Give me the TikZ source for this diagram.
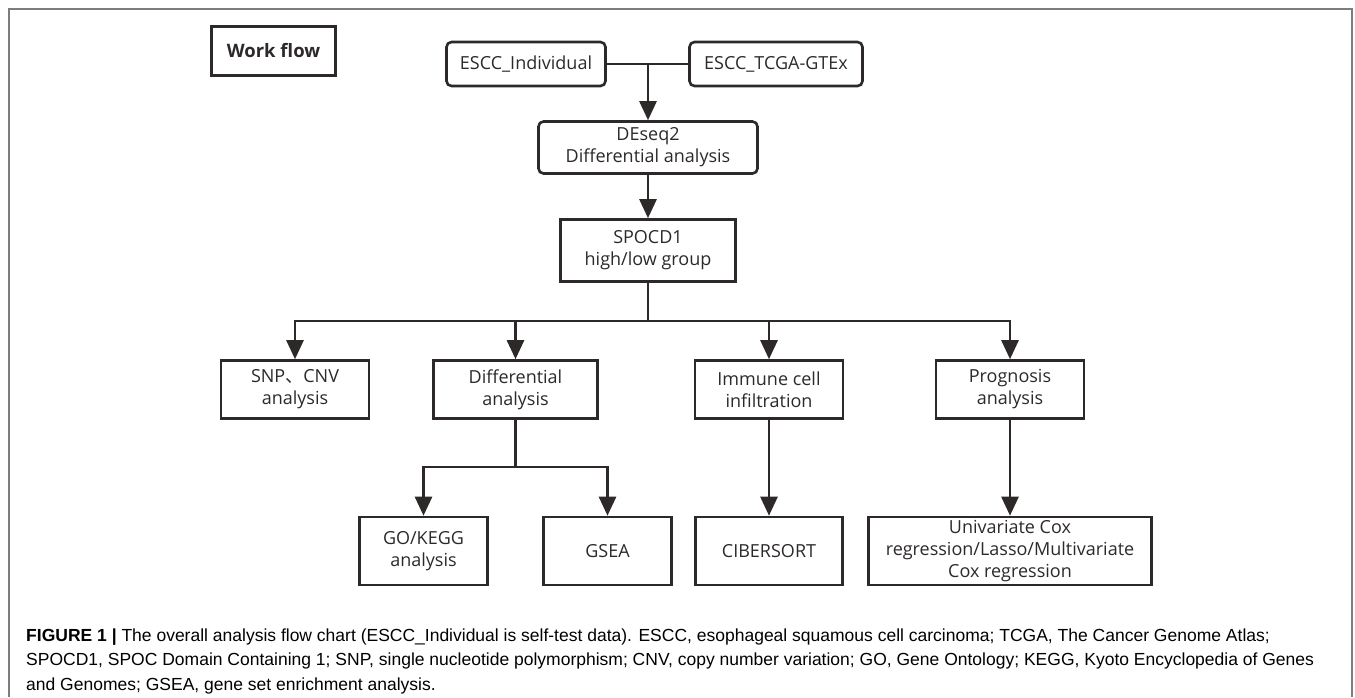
\documentclass[tikz,border=0pt]{standalone}
\usepackage{fontspec}
\usetikzlibrary{arrows.meta}
\setmainfont{Liberation Sans}
\newfontfamily\boxfont{Open Sans}
\newfontfamily\cjk{Noto Sans CJK SC}
\definecolor{linegray}{RGB}{45,41,41}
\definecolor{framegray}{RGB}{125,125,125}

\begin{document}
\begin{tikzpicture}[x=1pt,y=-1pt,
    box/.style={draw=linegray,line width=2.6pt,align=center,text=linegray,inner sep=0pt,
      font=\boxfont\fontsize{18}{22}\selectfont},
    rbox/.style={box,rounded corners=5pt},
    link/.style={draw=linegray,line width=2.6pt},
    arr/.style={link,-{Triangle[length=19pt,width=17pt]}}]
      \useasboundingbox (0,0) rectangle (1355,697);
      \draw[framegray,line width=1.2pt] (9,697) -- (9,9) -- (1352,9) -- (1352,697);

      % top of the flow
      \node[box,minimum width=124pt,minimum height=49pt,font=\boxfont\bfseries\fontsize{18.5}{22}\selectfont] (wf) at (273.5,51) {Work flow};
      \node[rbox,minimum width=159pt,minimum height=44pt] (ind) at (526,64) {ESCC\_Individual};
      \node[rbox,minimum width=173pt,minimum height=44pt] (tcga) at (776,64) {ESCC\_TCGA-GTEx};
      \node[rbox,minimum width=219pt,minimum height=52pt] (deseq) at (648,147.5) {DEseq2\\Differential analysis};
      \node[box,minimum width=175pt,minimum height=62pt] (spocd) at (648,250.5) {SPOCD1\\high/low group};
      \coordinate (j1) at (648,64);
      \coordinate (bus) at (648,321);

      % second row
      \node[box,minimum width=148pt,minimum height=58pt] (snp) at (295,389.5) {SNP{\cjk 、}CNV\\analysis};
      \node[box,minimum width=164pt,minimum height=58pt] (diff) at (515.5,389.5) {Differential\\analysis};
      \node[box,minimum width=148pt,minimum height=58pt] (immune) at (769,389.5) {Immune cell\\infiltration};
      \node[box,minimum width=148pt,minimum height=58pt] (prog) at (1010,389.5) {Prognosis\\analysis};
      \coordinate (bus2) at (515.5,467);

      % third row
      \node[box,minimum width=128pt,minimum height=68pt] (gokegg) at (423.5,551) {GO/KEGG\\analysis};
      \node[box,minimum width=128pt,minimum height=68pt] (gsea) at (607.5,551) {GSEA};
      \node[box,minimum width=147pt,minimum height=68pt] (cibersort) at (769,551) {CIBERSORT};
      \node[box,minimum width=283pt,minimum height=68pt] (cox) at (1010,551) {Univariate Cox\\regression/Lasso/Multivariate\\Cox regression};

      \draw[link] (ind) -- (tcga);
      \draw[arr] (j1) -- (deseq);
      \draw[arr] (deseq) -- (spocd);
      \draw[link] (spocd) -- (bus);
      \draw[arr] (bus) -| (snp);
      \draw[arr] (bus) -| (diff);
      \draw[arr] (bus) -| (immune);
      \draw[arr] (bus) -| (prog);
      \draw[link] (diff) -- (bus2);
      \draw[arr] (bus2) -| (gokegg);
      \draw[arr] (bus2) -| (gsea);
      \draw[arr] (immune) -- (cibersort);
      \draw[arr] (prog) -- (cox);

      % caption
      \begin{scope}[every node/.style={anchor=base west,inner sep=0pt,font=\fontsize{17.5}{20}\selectfont}]
        \node (cap1) at (26,641) {\textbf{FIGURE 1 |} The overall analysis flow chart (ESCC\_Individual is self-test data). ESCC, esophageal squamous cell carcinoma; TCGA, The Cancer Genome Atlas;};
        \node (cap2) at (26,665) {SPOCD1, SPOC Domain Containing 1; SNP, single nucleotide polymorphism; CNV, copy number variation; GO, Gene Ontology; KEGG, Kyoto Encyclopedia of Genes};
        \node (cap3) at (26,690) {and Genomes; GSEA, gene set enrichment analysis.};
      \end{scope}
    \end{tikzpicture}
\end{document}
